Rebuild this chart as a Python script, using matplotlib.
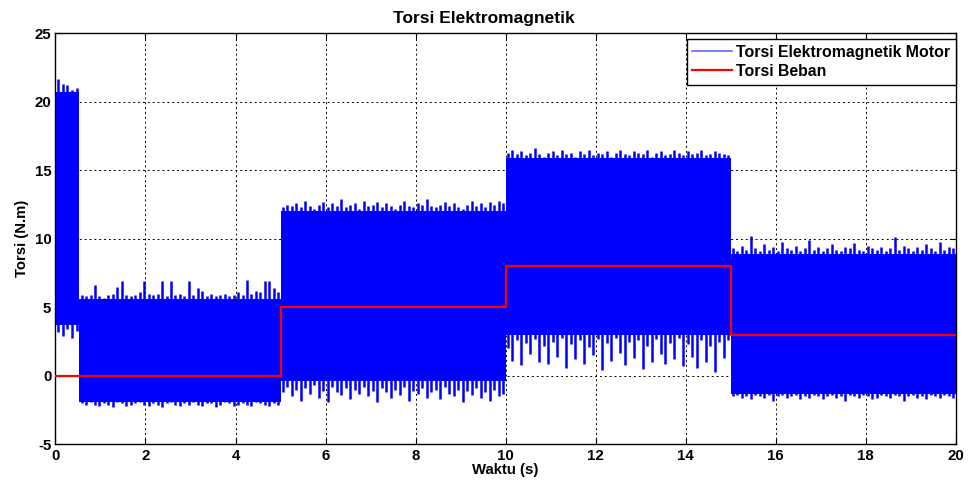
import numpy as np
import matplotlib
matplotlib.use("Agg")
import matplotlib.pyplot as plt
from matplotlib.lines import Line2D

plt.rcParams['font.family'] = ['Liberation Sans', 'DejaVu Sans']
plt.rcParams['font.weight'] = 'bold'

# Electromagnetic torque: operating intervals (s)
seg_bounds = [0.0, 0.53, 5.0, 10.0, 15.0, 20.0]

# Dense ripple band of the motor torque in each interval (N.m)
band_top = [20.7, 5.6, 12.0, 15.9, 8.9]
band_bottom = [3.7, -1.9, -0.4, 3.0, -1.3]

# Ripple peaks, ~0.1 s apart, within each interval (N.m)
peak_top = [
    [21.7, 21.3, 21.2, 20.9, 21.0],
    [5.9, 5.8, 5.9, 6.6, 5.8, 5.7, 5.9, 6.0, 6.5, 6.9, 5.9, 5.8, 5.9, 6.1, 6.9,
     6.0, 5.9, 6.0, 6.9, 5.8, 6.9, 5.9, 6.0, 5.8, 6.9, 5.9, 6.4, 6.2, 5.8, 6.0,
     5.8, 5.9, 6.0, 5.8, 5.9, 6.1, 5.9, 7.0, 6.0, 6.2, 6.1, 6.9, 6.9, 6.4, 6.1],
    [12.3, 12.5, 12.4, 12.6, 12.3, 12.8, 12.4, 12.2, 12.5, 12.7, 12.3, 12.6, 12.4,
     12.9, 12.3, 12.5, 12.6, 12.2, 12.8, 12.4, 12.5, 12.7, 12.3, 12.6, 12.4, 12.2,
     12.5, 12.8, 12.4, 12.3, 12.6, 12.5, 12.9, 12.4, 12.3, 12.5, 12.7, 12.4, 12.6,
     12.3, 12.2, 12.5, 12.8, 12.4, 12.6, 12.3, 12.7, 12.5, 12.8, 12.6],
    [16.3, 16.5, 16.2, 16.4, 16.1, 16.3, 16.6, 16.2, 16.0, 16.3, 16.4, 16.1, 16.5,
     16.2, 16.3, 16.0, 16.4, 16.2, 16.5, 16.1, 16.3, 16.2, 16.4, 16.0, 16.3, 16.5,
     16.2, 16.1, 16.4, 16.3, 16.2, 16.5, 16.0, 16.3, 16.4, 16.1, 16.2, 16.5, 16.3,
     16.1, 16.4, 16.2, 16.3, 16.5, 16.1, 16.2, 16.4, 16.3, 16.2, 16.1],
    [9.3, 9.1, 9.5, 9.2, 10.2, 9.3, 9.1, 9.6, 9.2, 9.4, 9.1, 9.8, 9.3, 9.2, 9.5,
     9.1, 9.3, 9.9, 9.2, 9.4, 9.1, 9.3, 9.6, 9.2, 9.1, 9.4, 9.3, 9.7, 9.2, 9.1,
     9.5, 9.3, 9.2, 9.4, 9.1, 9.3, 10.1, 9.2, 9.5, 9.3, 9.1, 9.4, 9.2, 9.6, 9.3,
     9.1, 9.8, 9.2, 9.4, 9.3],
]
peak_bottom = [
    [3.2, 2.9, 3.4, 2.8, 3.3],
    [-2.0, -2.1, -1.9, -2.1, -2.2, -2.0, -2.1, -2.3, -1.9, -2.0, -2.2, -2.1, -2.0,
     -1.9, -2.1, -2.2, -2.0, -2.1, -2.3, -2.0, -1.9, -2.1, -2.2, -2.0, -2.1, -1.9,
     -2.1, -2.2, -2.0, -2.0, -2.3, -2.1, -1.9, -2.0, -2.2, -2.1, -2.0, -2.1, -2.2,
     -1.9, -2.0, -2.1, -2.2, -2.0, -2.1],
    [-1.2, -0.8, -1.5, -1.0, -1.8, -0.9, -1.3, -0.7, -1.6, -1.1, -1.9, -0.8, -1.2,
     -1.4, -0.9, -1.7, -1.0, -1.3, -0.8, -1.5, -1.1, -1.9, -0.9, -1.2, -1.6, -1.0,
     -1.4, -0.8, -1.8, -1.1, -1.3, -0.9, -1.6, -1.2, -1.0, -1.7, -0.8, -1.3, -1.5,
     -1.0, -1.9, -1.1, -1.4, -0.9, -1.6, -1.2, -1.8, -1.0, -1.5, -1.3],
    [2.0, 1.1, 2.6, 0.8, 2.4, 1.6, 2.7, 1.0, 2.2, 0.9, 2.5, 1.4, 2.8, 0.6, 2.3,
     1.2, 2.6, 0.9, 2.1, 1.5, 2.7, 0.4, 2.4, 1.1, 2.8, 1.7, 0.8, 2.5, 1.3, 2.6,
     0.5, 2.2, 1.0, 2.7, 1.6, 0.9, 2.4, 1.2, 2.8, 0.7, 2.3, 1.4, 0.6, 2.6, 1.0,
     2.2, 0.3, 2.5, 1.3, 2.6],
    [-1.5, -1.4, -1.6, -1.5, -1.7, -1.4, -1.5, -1.6, -1.4, -1.8, -1.5, -1.4, -1.6,
     -1.5, -1.4, -1.7, -1.5, -1.6, -1.4, -1.5, -1.7, -1.5, -1.4, -1.6, -1.5, -1.8,
     -1.4, -1.5, -1.6, -1.4, -1.5, -1.7, -1.6, -1.4, -1.5, -1.6, -1.4, -1.5, -1.8,
     -1.5, -1.4, -1.6, -1.5, -1.7, -1.4, -1.5, -1.6, -1.4, -1.5, -1.6],
]

# Load torque steps
load_t = [0.0, 5.0, 10.0, 15.0, 20.0]
load_torque = [0.0, 5.0, 8.0, 3.0, 3.0]

x_ticks = [0, 2, 4, 6, 8, 10, 12, 14, 16, 18, 20]
y_ticks = [-5, 0, 5, 10, 15, 20, 25]

motor_color = '#0000FF'
load_color = '#FF0000'

fig = plt.figure(figsize=(9.68, 4.83), dpi=100)
ax = fig.add_axes([0.0573, 0.0799, 0.9300, 0.8511])

for i in range(len(band_top)):
    a, b = seg_bounds[i], seg_bounds[i + 1]
    ax.fill_between([a, b], [band_bottom[i]] * 2, [band_top[i]] * 2,
                    color=motor_color, lw=0, zorder=2)
    n = len(peak_top[i])
    edges = np.linspace(a, b, n + 1)
    t_mid = 0.5 * (edges[:-1] + edges[1:])
    ax.vlines(t_mid, band_top[i] - 0.2, peak_top[i], color=motor_color,
              lw=1.8, zorder=2)
    ax.vlines(t_mid, peak_bottom[i], band_bottom[i] + 0.2, color=motor_color,
              lw=1.8, zorder=2)

ax.step(load_t, load_torque, where='post', color=load_color, lw=1.6, zorder=3)

ax.set_xlim(0, 20)
ax.set_ylim(-5, 25)
ax.set_xticks(x_ticks)
ax.set_yticks(y_ticks)
ax.set_xticklabels([str(v) for v in x_ticks], fontsize=10.8, fontweight='bold')
ax.set_yticklabels([str(v) for v in y_ticks], fontsize=10.8, fontweight='bold')
ax.tick_params(direction='in', length=4, width=0.8, top=True, right=True, pad=3)

ax.set_axisbelow(True)
ax.grid(True, color='black', lw=0.7, linestyle=(0, (2, 3)))
for s in ax.spines.values():
    s.set_linewidth(1.0)
    s.set_color('black')

fig.text(484 / 968, 1 - 18 / 483, 'Torsi Elektromagnetik', fontsize=12.5,
         fontweight='bold', ha='center', va='center')
ax.set_xlabel('Waktu (s)', fontsize=10.7, fontweight='bold', labelpad=0)
ax.set_ylabel('Torsi (N.m)', fontsize=10.7, fontweight='bold', labelpad=4)

handles = [Line2D([], [], color=motor_color, lw=1.2, alpha=0.6),
           Line2D([], [], color=load_color, lw=1.6)]
leg = ax.legend(handles, ['Torsi Elektromagnetik Motor', 'Torsi Beban'],
                loc='upper right', bbox_to_anchor=(1.0, 0.985),
                prop={'size': 11.4, 'weight': 'bold'}, fancybox=False,
                framealpha=1, edgecolor='black', borderaxespad=0.0,
                handlelength=2.5, handletextpad=0.25, borderpad=0.35,
                labelspacing=0.25)
leg.get_frame().set_linewidth(1.0)

fig.savefig('out.png', dpi=100)
